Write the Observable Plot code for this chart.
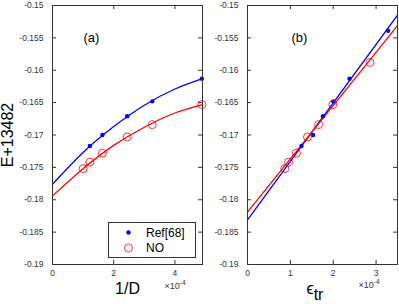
<!DOCTYPE html>
<html><head><meta charset="utf-8">
<script src="https://cdn.jsdelivr.net/npm/d3@7"></script>
<script src="https://cdn.jsdelivr.net/npm/@observablehq/plot@0.6"></script>
<style>
body{margin:0;background:#fff;}
#wrap{position:relative;width:399px;height:304px;display:flex;font-family:"Liberation Sans",Arial,sans-serif;}
#wrap svg{display:block;flex:none;}
#legend{position:absolute;left:108px;top:222px;width:86px;height:34px;border:1px solid #333;background:#fff;}
</style></head><body><div id="wrap"></div>
<script>
// x values are in units of 1e-4 (the axis multiplier)
// Panel (a)
const invD_ref = [1.22, 1.63, 2.44, 3.26, 4.88];
const E_ref_a  = [-0.1717, -0.1700, -0.1671, -0.1648, -0.1613];
const invD_no  = [1.00, 1.22, 1.63, 2.44, 3.26, 4.88];
const E_no_a   = [-0.1752, -0.1742, -0.1728, -0.1703, -0.1684, -0.1653];
const fitX_a   = [0, 1, 2, 3, 4, 4.9];
const fitRef_a = [-0.1776, -0.1727, -0.1687, -0.1654, -0.1629, -0.1613];
const fitNO_a  = [-0.1794, -0.1752, -0.1716, -0.1688, -0.1666, -0.1653];
// Panel (b)
const eps_ref  = [1.26, 1.53, 1.76, 2.00, 2.38, 3.28];
const E_ref_b  = [-0.1717, -0.1700, -0.1671, -0.1648, -0.1613, -0.1539];
const eps_no   = [0.87, 0.96, 1.14, 1.40, 1.66, 1.99, 2.86];
const E_no_b   = [-0.1752, -0.1742, -0.1728, -0.1703, -0.1684, -0.1653, -0.1588];
const fitX_b   = [0, 3.5];
const fitRef_b = [-0.1831, -0.1515];
const fitNO_b  = [-0.1819, -0.1531];
// Axes
const yTicks = [-0.19, -0.185, -0.18, -0.175, -0.17, -0.165, -0.16, -0.155, -0.15];
const yTickLabels = ["-0.19", "-0.185", "-0.18", "-0.175", "-0.17", "-0.165", "-0.16", "-0.155", "-0.15"];
const xTicks_a = [0, 2, 4];
const xTickLabels_a = ["0", "2", "4"];
const xTicks_b = [0, 1, 2, 3];
const xTickLabels_b = ["0", "1", "2", "3"];
const seriesNames = ["Ref[68]", "NO"];
const BLUE = "#0000ff", RED = "#ff0000", AX = "#333";

const H = 304, MT = 5, MB = 40;

function panel({width, ml, mr, xDomain, xTicks, xTickLabels, marks, tag, tagDx, xLabel}) {
  const fw = width - ml - mr, fh = H - MT - MB, tl = 4;
  return Plot.plot({
    width, height: H, marginLeft: ml, marginRight: mr, marginTop: MT, marginBottom: MB,
    style: {fontFamily: '"Liberation Sans", Arial, sans-serif', fontSize: "8.5px", color: AX, background: "transparent", overflow: "visible"},
    x: {domain: xDomain},
    y: {domain: [-0.19, -0.15]},
    marks: [
      Plot.axisY(yTicks, {tickSize: 0, tickPadding: 9, tickFormat: d => yTickLabels[yTicks.indexOf(d)], label: null, fill: AX}),
      Plot.axisX(xTicks, {tickSize: 0, tickPadding: 5, tickFormat: d => xTickLabels[xTicks.indexOf(d)], label: null, fill: AX}),
      Plot.ruleY(yTicks, {insetRight: fw - tl, stroke: AX}),
      Plot.ruleY(yTicks, {insetLeft: fw - tl, stroke: AX}),
      Plot.ruleX(xTicks, {insetTop: fh - tl, stroke: AX}),
      Plot.ruleX(xTicks, {insetBottom: fh - tl, stroke: AX}),
      ...marks,
      Plot.frame({stroke: AX}),
      Plot.text([tag], {frameAnchor: "top-left", dx: tagDx, dy: 27, fontSize: 13, fill: "#000", lineAnchor: "top"}),
      ...(xLabel ? [Plot.text([xLabel], {frameAnchor: "bottom", dy: 24, lineAnchor: "middle", fontSize: 16, fill: "#000"})] : [])
    ]
  });
}

const left = panel({
  width: 205, ml: 52, mr: 3, xDomain: [0, 4.9], xTicks: xTicks_a, xTickLabels: xTickLabels_a,
  tag: "(a)", tagDx: 31, xLabel: "1/D",
  marks: [
    Plot.line(fitRef_a, {x: fitX_a, y: fitRef_a, curve: "natural", stroke: BLUE, strokeWidth: 1.3}),
    Plot.line(fitNO_a, {x: fitX_a, y: fitNO_a, curve: "natural", stroke: RED, strokeWidth: 1.3}),
    Plot.dot(E_ref_a, {x: invD_ref, y: E_ref_a, r: 2.2, fill: BLUE, stroke: "none"}),
    Plot.dot(E_no_a, {x: invD_no, y: E_no_a, r: 4, fill: "none", stroke: RED, strokeWidth: 0.8}),
    Plot.text(["E+13482"], {frameAnchor: "left", dx: -45, rotate: -90, textAnchor: "middle", lineAnchor: "middle", fontSize: 16, fill: "#000"})
  ]
});

const right = panel({
  width: 194, ml: 42, mr: 2, xDomain: [0, 3.5], xTicks: xTicks_b, xTickLabels: xTickLabels_b,
  tag: "(b)", tagDx: 44, xLabel: null,
  marks: [
    Plot.line(fitRef_b, {x: fitX_b, y: fitRef_b, stroke: BLUE, strokeWidth: 1.3, clip: true}),
    Plot.line(fitNO_b, {x: fitX_b, y: fitNO_b, stroke: RED, strokeWidth: 1.3, clip: true}),
    Plot.dot(E_ref_b, {x: eps_ref, y: E_ref_b, r: 2.2, fill: BLUE, stroke: "none"}),
    Plot.dot(E_no_b, {x: eps_no, y: E_no_b, r: 4, fill: "none", stroke: RED, strokeWidth: 0.8})
  ]
});

const wrap = document.getElementById("wrap");
wrap.appendChild(left);
wrap.appendChild(right);

// exponent multipliers (coordinates are within each panel's svg)
function mult(svg, x, y) {
  const t = d3.select(svg).append("text").attr("x", x).attr("y", y)
    .attr("font-family", '"Liberation Sans", Arial, sans-serif').attr("font-size", 9).attr("fill", AX);
  t.append("tspan").text("×10");
  t.append("tspan").attr("dy", -4).attr("font-size", 6.5).text("-4");
}
mult(left, 175, 289);
mult(right, 164, 288);

// epsilon_tr label
const eps = d3.select(right).append("text").attr("x", 110).attr("y", 294)
  .attr("font-family", '"Liberation Sans", Arial, sans-serif').attr("font-size", 16).attr("fill", "#000");
eps.append("tspan").text("ϵ");
eps.append("tspan").attr("dy", 6).attr("font-size", 16).text("tr");

// legend
const lg = document.createElement("div");
lg.id = "legend";
lg.innerHTML = `<svg width="86" height="34" style="display:block;font-family:'Liberation Sans',Arial,sans-serif">
  <circle cx="19.5" cy="9.5" r="2.2" fill="${BLUE}"/>
  <text x="37" y="9.5" dy="0.35em" font-size="12" fill="#000">${seriesNames[0]}</text>
  <circle cx="19.5" cy="25" r="4" fill="none" stroke="${RED}" stroke-width="0.8"/>
  <text x="37" y="25" dy="0.35em" font-size="12" fill="#000">${seriesNames[1]}</text>
</svg>`;
wrap.appendChild(lg);
</script>
</body></html>
